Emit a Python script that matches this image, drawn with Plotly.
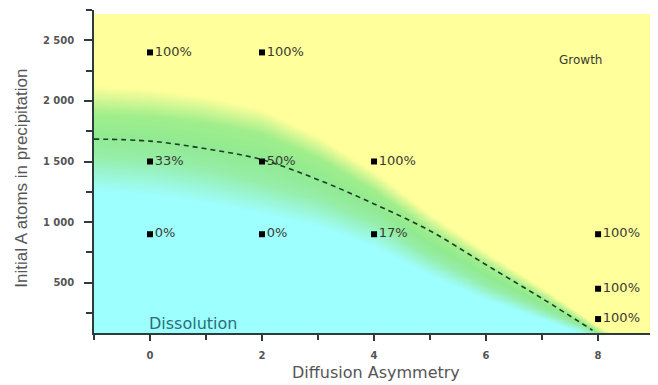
import numpy as np
import plotly.graph_objects as go

# ---- data ----
pt_x = [0, 2, 0, 2, 4, 0, 2, 4, 8, 8, 8]
pt_y = [2400, 2400, 1500, 1500, 1500, 900, 900, 900, 900, 450, 200]
pt_label = ["100%", "100%", "33%", "50%", "100%", "0%", "0%", "17%", "100%", "100%", "100%"]

boundary_x = [-1, 0, 1, 2, 3, 4, 5, 6, 7, 7.9]
boundary_y = [1685, 1668, 1605, 1515, 1350, 1150, 928, 648, 370, 108]

# colour-band edges (green -> yellow and cyan -> green transitions)
band_x = [-1, 0, 1, 2, 3, 4, 5, 6, 7, 8, 9.2]
yellow_mid = [2010, 1985, 1930, 1830, 1620, 1340, 1000, 700, 420, 120, -150]
yellow_w = [240, 230, 220, 200, 180, 160, 140, 110, 80, 50, 50]
cyan_mid = [1400, 1370, 1300, 1200, 1080, 900, 640, 420, 240, 60, -300]
cyan_w = [300, 290, 280, 260, 230, 200, 160, 120, 80, 50, 50]

x_ticks = [0, 2, 4, 6, 8]
x_ticktext = ["0", "2", "4", "6", "8"]
x_minor = [-1, 1, 3, 5, 7]
y_ticks = [500, 1000, 1500, 2000, 2500]
y_ticktext = ["500", "1 000", "1 500", "2 000", "2 500"]
y_minor = [250, 750, 1250, 1750, 2250, 2750]

# ---- background gradient ----
gx = np.linspace(-1, 9.1, 220)
gy = np.linspace(85, 2712, 280)
ym = np.interp(gx, band_x, yellow_mid)
yw = np.interp(gx, band_x, yellow_w)
cm = np.interp(gx, band_x, cyan_mid)
cw = np.interp(gx, band_x, cyan_w)
c1 = cm - cw / 2
c2 = cm + cw / 2
c3 = ym - yw / 2
c4 = ym + yw / 2
Y = gy[:, None]
z = np.where(Y < c1, 0.0,
     np.where(Y < c2, (Y - c1) / (c2 - c1),
     np.where(Y < c3, 1 + (Y - c2) / (c3 - c2),
     np.where(Y < c4, 2 + (Y - c3) / (c4 - c3), 3.0))))

cyan = "rgb(158,255,255)"
yellow = "rgb(255,255,155)"
colorscale = [[0, cyan], [1 / 3, "rgb(150,238,170)"], [0.5, "rgb(145,234,145)"],
              [2 / 3, "rgb(160,238,140)"], [1, yellow]]

axis_col = "#2d3b3b"
fig = go.Figure()
fig.add_trace(go.Heatmap(x=gx, y=gy, z=z, colorscale=colorscale, zmin=0, zmax=3,
                         zsmooth="best", showscale=False, hoverinfo="skip"))
fig.add_trace(go.Scatter(x=boundary_x, y=boundary_y, mode="lines", line_shape="spline",
                         line=dict(color="#1f3a2a", width=1.6, dash="5px,4px"),
                         hoverinfo="skip", showlegend=False))
fig.add_trace(go.Scatter(x=pt_x, y=pt_y, mode="markers+text", text=pt_label,
                         textposition="middle right", cliponaxis=False,
                         textfont=dict(family="DejaVu Sans", size=13, color="#3a3a34"),
                         marker=dict(symbol="square", size=6, color="black"),
                         showlegend=False))

fig.add_annotation(x=7.27, y=2340, xref="x", yref="y", text="Growth", showarrow=False,
                   xanchor="left", font=dict(family="DejaVu Sans", size=12, color="#3a3a30"))
fig.add_annotation(x=-0.05, y=160, xref="x", yref="y", text="Dissolution", showarrow=False,
                   xanchor="left", font=dict(family="DejaVu Sans", size=16, color="#2b6e78"))
fig.add_annotation(x=0.5, y=-0.121, xref="paper", yref="paper", yanchor="middle",
                   text="Diffusion Asymmetry", showarrow=False,
                   font=dict(family="DejaVu Sans", size=16, color="#555555"))
fig.add_annotation(x=-0.128, y=0.48, xref="paper", yref="paper", xanchor="center",
                   yanchor="middle", textangle=-90,
                   text="Initial A atoms in precipitation", showarrow=False,
                   font=dict(family="Liberation Sans", size=17, color="#555555"))

# the page body adds an 8px offset, so the figure is sized to compensate
fig.update_layout(
    width=650, height=377,
    margin=dict(l=86, r=0, t=2, b=52),
    paper_bgcolor="white", plot_bgcolor="white",
    xaxis=dict(range=[-1, 9.07], showgrid=False, zeroline=False, showline=True,
               automargin=False,
               linecolor=axis_col, linewidth=1.5, ticks="outside", ticklen=6,
               tickwidth=1.5, tickcolor=axis_col, tickvals=x_ticks, ticktext=x_ticktext,
               tickfont=dict(family="DejaVu Sans", size=10, color="#555555", weight="bold"),
               minor=dict(tickvals=x_minor, ticks="outside", ticklen=5, tickwidth=1.5,
                          tickcolor=axis_col),
               ticklabelstandoff=6),
    yaxis=dict(range=[85, 2750], showgrid=False, zeroline=False, showline=True,
               automargin=False,
               linecolor=axis_col, linewidth=1.5, ticks="outside", ticklen=8,
               tickwidth=1.5, tickcolor=axis_col, tickvals=y_ticks, ticktext=y_ticktext,
               tickfont=dict(family="DejaVu Sans", size=10, color="#555555", weight="bold"),
               minor=dict(tickvals=y_minor, ticks="outside", ticklen=6, tickwidth=1.5,
                          tickcolor=axis_col),
               ticklabelstandoff=8),
)
fig.write_html("out.html")
